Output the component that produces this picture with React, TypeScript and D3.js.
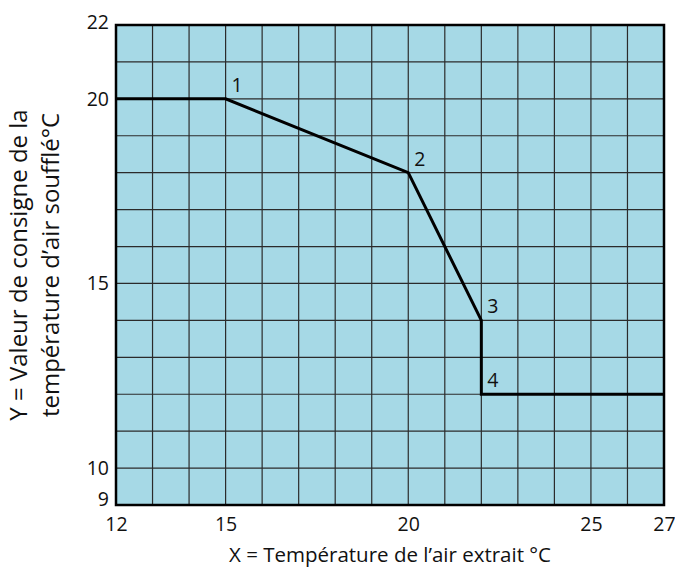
import * as React from 'react';
import * as d3 from 'd3';

// courbe de consigne
const X_VALUES = [12, 15, 20, 22, 22, 27];
const Y_VALUES = [20, 20, 18, 14, 12, 12];
const POINT_LABELS = ['', '1', '2', '3', '4', ''];

const X_TICKS = [12, 15, 20, 25, 27];
const Y_TICKS = [9, 10, 15, 20, 22];

const X_TITLE = 'X = Température de l\u2019air extrait °C';
const Y_TITLE = ['Y = Valeur de consigne de la', 'température d\u2019air soufflé°C'];

interface Pt {
    x: number;
    y: number;
    label: string;
}

const FONT = '"Open Sans", "Noto Sans", sans-serif';

export default function App() {
    const svgRef = React.useRef<SVGSVGElement>(null);

    React.useEffect(() => {
        document.body.style.margin = '0';
        const svg = d3.select(svgRef.current);
        svg.selectAll('*').remove();

        const MARGIN = { top: 25, right: 11, bottom: 66, left: 116 };
        const width = 675;
        const height = 571;
        const innerWidth = width - MARGIN.left - MARGIN.right;
        const innerHeight = height - MARGIN.top - MARGIN.bottom;

        const data: Pt[] = X_VALUES.map((x, i) => ({ x, y: Y_VALUES[i], label: POINT_LABELS[i] }));

        const xScale = d3.scaleLinear().domain([12, 27]).range([0, innerWidth]);
        const yScale = d3.scaleLinear().domain([9, 22]).range([innerHeight, 0]);

        const g = svg.append('g').attr('transform', `translate(${MARGIN.left},${MARGIN.top})`);

        /** ******** Background & grid ********* */
        g.append('rect')
            .attr('width', innerWidth)
            .attr('height', innerHeight)
            .attr('fill', '#a6d9e6');

        g.append('g')
            .selectAll('line')
            .data(d3.range(13, 27))
            .enter()
            .append('line')
            .attr('x1', d => xScale(d))
            .attr('x2', d => xScale(d))
            .attr('y1', 0)
            .attr('y2', innerHeight)
            .attr('stroke', '#2b2b2b')
            .attr('stroke-width', 1.2);

        g.append('g')
            .selectAll('line')
            .data(d3.range(10, 22))
            .enter()
            .append('line')
            .attr('y1', d => yScale(d))
            .attr('y2', d => yScale(d))
            .attr('x1', 0)
            .attr('x2', innerWidth)
            .attr('stroke', '#2b2b2b')
            .attr('stroke-width', 1.2);

        g.append('rect')
            .attr('width', innerWidth)
            .attr('height', innerHeight)
            .attr('fill', 'none')
            .attr('stroke', '#000')
            .attr('stroke-width', 2.5);

        /** ******** Axis ********* */
        const xAxis = d3.axisBottom(xScale).tickValues(X_TICKS).tickSize(0).tickPadding(12);
        const yAxis = d3.axisLeft(yScale).tickValues(Y_TICKS).tickSize(0).tickPadding(7);

        const xAxisDom = g.append('g').attr('transform', `translate(0,${innerHeight})`).call(xAxis);
        const yAxisDom = g.append('g').call(yAxis);
        [xAxisDom, yAxisDom].forEach(a => {
            a.select('.domain').remove();
            a.selectAll('text')
                .attr('font-family', FONT)
                .attr('font-size', 19.5)
                .attr('fill', '#111');
        });
        yAxisDom
            .selectAll<SVGTextElement, number>('text')
            .attr('dy', d => (d === 9 ? '0.02em' : d === 22 ? '0.18em' : '0.32em'));

        // Titles
        svg.append('text')
            .attr('x', MARGIN.left + innerWidth / 2)
            .attr('y', 562)
            .attr('text-anchor', 'middle')
            .attr('font-family', FONT)
            .attr('font-size', 20.5)
            .attr('fill', '#111')
            .text(X_TITLE);

        const yTitle = svg
            .append('text')
            .attr('transform', `translate(0,${MARGIN.top + innerHeight / 2}) rotate(-90)`)
            .attr('text-anchor', 'middle')
            .attr('font-family', FONT)
            .attr('font-size', 24)
            .attr('fill', '#111');
        Y_TITLE.forEach((line, i) => {
            yTitle
                .append('tspan')
                .attr('x', 0)
                .attr('y', 27 + i * 32)
                .text(line);
        });

        /** ******** Line ********* */
        const getLine = d3
            .line<Pt>()
            .x(d => xScale(d.x))
            .y(d => yScale(d.y));
        g.append('path')
            .datum(data)
            .attr('d', getLine)
            .attr('fill', 'none')
            .attr('stroke', '#000')
            .attr('stroke-width', 3)
            .attr('stroke-linejoin', 'miter');

        g.append('g')
            .selectAll('text')
            .data(data.filter(d => d.label))
            .enter()
            .append('text')
            .attr('x', d => xScale(d.x) + 6)
            .attr('y', d => yScale(d.y) - 7)
            .attr('font-family', FONT)
            .attr('font-size', 19.5)
            .attr('fill', '#111')
            .text(d => d.label);
    }, []);

    return <svg ref={svgRef} width={675} height={571} style={{ display: 'block' }} />;
}
